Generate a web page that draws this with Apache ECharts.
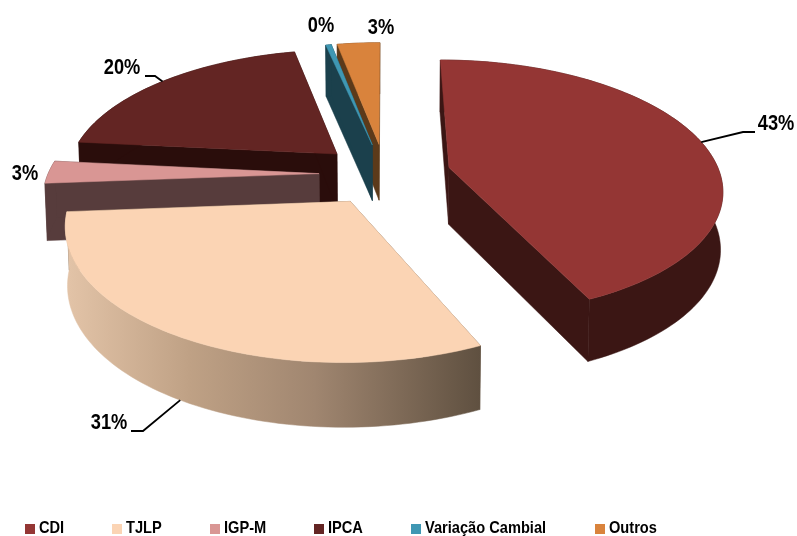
<!DOCTYPE html>
<html><head><meta charset="utf-8">
<style>html,body{margin:0;padding:0;background:#fff}#c{width:797px;height:536px}</style>
<script src="https://cdn.jsdelivr.net/npm/echarts@6/dist/echarts.min.js"></script>
</head><body><div id="c"></div>
<script>
// --- data ---
var categories = ['CDI','TJLP','IGP-M','IPCA','Variação Cambial','Outros'];
var shares     = [43.2, 30.6, 2.8, 20, 0.4, 3];
// --- styles ---
var topColors  = ['#943634','#FBD4B4','#D99694','#632523','#3F97B3','#D9833C'];
var wallColors = ['#3B1614','#6B5B4B','#573C3C','#2A0D0B','#1B404C','#5C3A1A'];
var paintOrder = [5,4,3,2,0,1];
var legendLeft = [25,112,210,314,411,595];
var legendTextX = [39,126,224,328,425,609];
var labelPlace = [
  {x:776,y:124,leader:[[743,132],[755,132]],wall:false},
  {x:109,y:423,leader:[[143,431],[131,431]],wall:true},
  {x:25,y:174,leader:null},
  {x:122,y:68,leader:[[155,76],[145,76]],wall:false},
  {x:321,y:26,leader:null},
  {x:381,y:28,leader:null}
];
// --- pie geometry ---
var geo = {cx:385,cy:174,R:271,explode:66,tilt:0.466,k:0.157,depth:57,depthPow:0.6,shrink:0.993};
var FONT = '"Liberation Sans",Arial,sans-serif';
var total = shares.reduce(function(a,b){return a+b;},0);
var starts = []; (function(){var c=0;shares.forEach(function(v){starts.push(c/total*Math.PI*2);c+=v;});})();

function project(i,theta,rad,bottom){
  var mid = starts[i]+shares[i]/total*Math.PI;
  var mx = geo.explode*Math.sin(mid)+rad*Math.sin(theta);
  var my = -(geo.explode*Math.cos(mid)+rad*Math.cos(theta));
  var s = 1/(1-geo.k*my/geo.R);
  var x = geo.cx+mx*s, y = geo.cy+geo.tilt*my*s;
  if(bottom){ x = geo.cx+(x-geo.cx)*geo.shrink; y += geo.depth*Math.pow(s,geo.depthPow); }
  return [x,y];
}
function arc(i,bottom){
  var a0=starts[i], a1=a0+shares[i]/total*Math.PI*2, n=Math.max(4,Math.ceil((a1-a0)*40)), pts=[];
  for(var j=0;j<=n;j++){pts.push(project(i,a0+(a1-a0)*j/n,geo.R,bottom));}
  return pts;
}
function renderSlice(i){
  return function(){
    var a0=starts[i], a1=a0+shares[i]/total*Math.PI*2;
    var top=arc(i,false), low=arc(i,true);
    var apexT=project(i,0,0,false), apexB=project(i,0,0,true);
    var wallFill = i===1 ? new echarts.graphic.LinearGradient(0,0,1,0,[
        {offset:0,color:'#E3C4A8'},{offset:0.3,color:'#BFA185'},{offset:0.6,color:'#A08670'},{offset:1,color:'#5F5040'}]) : wallColors[i];
    var poly=function(p,f){return {type:'polygon',shape:{points:p},style:{fill:f,stroke:f,lineWidth:0.5}};};
    var kids=[
      poly([apexT,top[0],low[0],apexB],wallColors[i]),
      poly([apexT,top[top.length-1],low[low.length-1],apexB],wallColors[i]),
      poly(top.concat(low.slice().reverse()),wallFill),
      poly([apexT].concat(top),topColors[i])
    ];
    var lp=labelPlace[i];
    if(lp.leader){
      var mid=(a0+a1)/2, st=project(i,mid,geo.R,lp.wall);
      kids.push({type:'polyline',shape:{points:[st].concat(lp.leader)},style:{fill:'none',stroke:'#000',lineWidth:1.8}});
    }
    kids.push({type:'text',x:lp.x,y:lp.y,scaleX:0.83,style:{text:Math.round(shares[i])+'%',x:0,y:0,align:'center',verticalAlign:'middle',
      font:'bold 22px '+FONT,fill:'#000'}});
    kids.push({type:'text',x:legendTextX[i],y:528,scaleX:0.86,style:{text:categories[i],x:0,y:0,align:'left',verticalAlign:'middle',
      font:'bold 17px '+FONT,fill:'#000'}});
    return {type:'group',children:kids};
  };
}
var series = paintOrder.map(function(i){
  return {type:'custom',name:categories[i],coordinateSystem:'none',data:[shares[i]],
    itemStyle:{color:topColors[i]},silent:true,animation:false,renderItem:renderSlice(i)};
});
var legends = categories.map(function(c,i){
  return {data:[c],left:legendLeft[i],top:524,icon:'rect',itemWidth:10,itemHeight:10,selectedMode:false,padding:0,
    formatter:function(){return ' ';},textStyle:{fontSize:10}};
});
var chart = echarts.init(document.getElementById('c'),null,{renderer:'canvas'});
chart.setOption({animation:false,backgroundColor:'#fff',legend:legends,series:series});
</script></body></html>
